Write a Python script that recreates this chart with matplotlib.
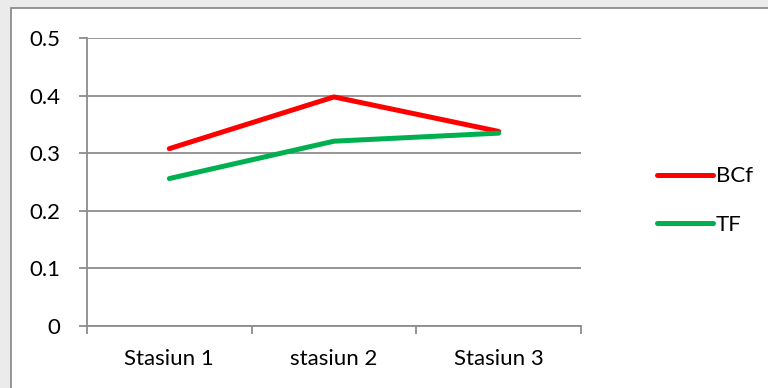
import matplotlib
matplotlib.use("Agg")
import matplotlib.pyplot as plt
from matplotlib.patches import Rectangle

stations = ['Stasiun 1', 'stasiun 2', 'Stasiun 3']
bcf = [0.308, 0.398, 0.338]
tf = [0.256, 0.321, 0.335]
yticks = [0, 0.1, 0.2, 0.3, 0.4, 0.5]

plt.rcParams['font.family'] = ['Lato', 'DejaVu Sans']
grid_col = '#8c8c8c'
fs = 16

fig = plt.figure(figsize=(7.68, 3.88), dpi=100, facecolor='#ebebeb')
# chart frame (runs off the right and bottom of the picture)
fig.patches.append(Rectangle((11/768, -0.1), 1.2, 1 - 8/388 + 0.1,
                             transform=fig.transFigure, facecolor='white',
                             edgecolor=grid_col, linewidth=1.3, zorder=-5))

ax = fig.add_axes([87/768, 1 - 325.7/388, (581 - 87)/768, (325.7 - 38.3)/388])
ax.set_facecolor('none')
ax.set_zorder(2)

x = range(len(stations))
ax.plot(x, bcf, color='#ff0000', lw=3.6, solid_capstyle='round', label='BCf', zorder=3)
ax.plot(x, tf, color='#00b050', lw=3.6, solid_capstyle='round', label='TF', zorder=3)

ax.set_xlim(-0.5, len(stations) - 0.5)
ax.set_ylim(0, 0.5)
ax.set_yticks(yticks)
ax.set_yticklabels(['0', '0.1', '0.2', '0.3', '0.4', '0.5'])
ax.set_xticks(list(x))
ax.set_xticklabels(stations)
ax.set_xticks([-0.5, 0.5, 1.5, 2.5], minor=True)

ax.grid(axis='y', color=grid_col, lw=1.3)
ax.set_axisbelow(True)
for s in ['top', 'right']:
    ax.spines[s].set_visible(False)
for s in ['left', 'bottom']:
    ax.spines[s].set_color(grid_col)
    ax.spines[s].set_linewidth(1.3)

ax.tick_params(axis='y', length=6, width=1.3, color=grid_col, pad=13, labelsize=fs)
ax.tick_params(axis='x', which='major', length=0, pad=17, labelsize=fs)
ax.tick_params(axis='x', which='minor', length=6, width=1.3, color=grid_col)

leg = fig.legend(loc='center left', bbox_to_anchor=(657/768, 1 - 200.5/388),
                 frameon=False, handlelength=2.5, handletextpad=0.15,
                 labelspacing=1.28, borderpad=0, borderaxespad=0, fontsize=fs)
leg.set_zorder(3)

fig.savefig('out.png', dpi=100, facecolor=fig.get_facecolor())
